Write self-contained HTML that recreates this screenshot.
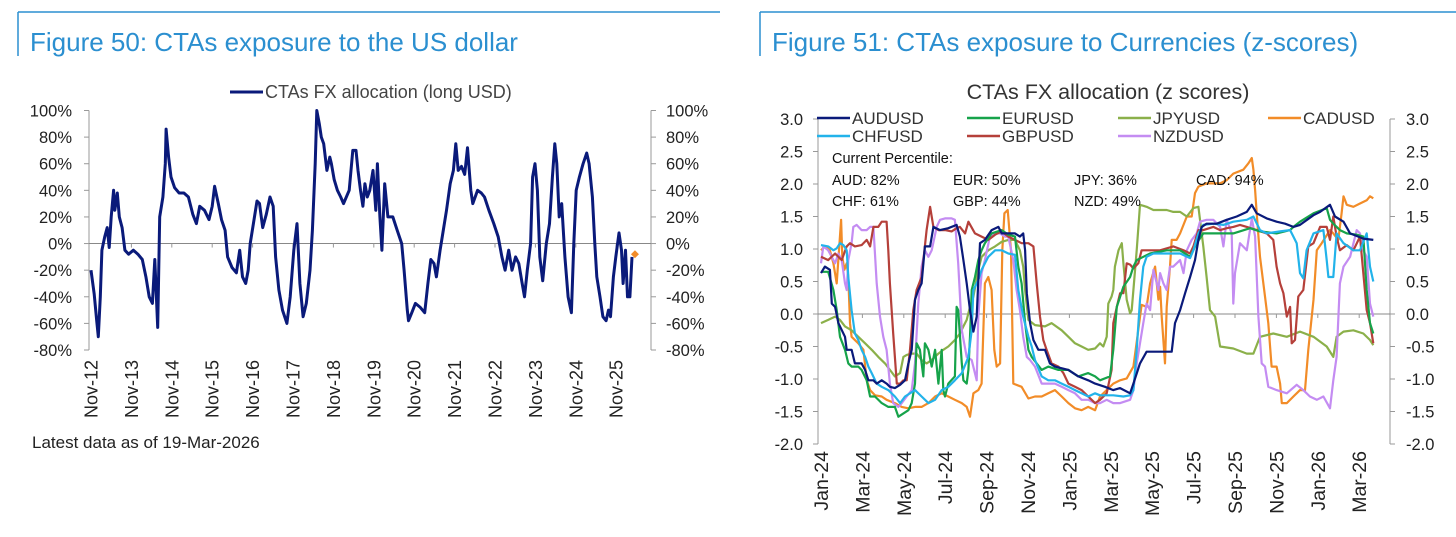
<!DOCTYPE html>
<html><head><meta charset="utf-8">
<style>
html,body{margin:0;padding:0;background:#fff;}
body{width:1456px;height:532px;overflow:hidden;font-family:"Liberation Sans",Arial,sans-serif;}
svg text{font-family:"Liberation Sans",Arial,sans-serif;}
</style></head>
<body>
<svg id="root" width="1456" height="532" viewBox="0 0 1456 532" xmlns="http://www.w3.org/2000/svg">
  <g>
    <line x1="18" y1="12" x2="720" y2="12" stroke="#2b8fd0" stroke-width="1.5"/>
    <line x1="18" y1="12" x2="18" y2="56" stroke="#2b8fd0" stroke-width="1.5"/>
    <text x="30" y="51" font-size="26" fill="#2b8fd0">Figure 50: CTAs exposure to the US dollar</text>
  </g>
  <g>
    <line x1="760" y1="12" x2="1456" y2="12" stroke="#2b8fd0" stroke-width="1.5"/>
    <line x1="760" y1="12" x2="760" y2="56" stroke="#2b8fd0" stroke-width="1.5"/>
    <text x="772" y="51" font-size="26" fill="#2b8fd0">Figure 51: CTAs exposure to Currencies (z-scores)</text>
  </g>
  <g id="left"></g>
  <g id="right"></g>
  <text x="32" y="448" font-size="17" fill="#222">Latest data as of 19-Mar-2026</text>
</svg>
<script>
// ---------- Left chart data (years since Nov-2012, % long USD) ----------
const usdYears=[0,.08,.14,.18,.23,.27,.34,.40,.45,.50,.56,.59,.65,.70,.77,.84,.93,1.05,1.16,1.27,1.36,1.44,1.52,1.58,1.65,1.70,1.78,1.84,1.86,1.92,1.98,2.07,2.18,2.30,2.41,2.52,2.61,2.69,2.81,2.92,3.00,3.06,3.15,3.23,3.32,3.38,3.49,3.60,3.68,3.75,3.83,3.89,3.94,4.02,4.11,4.17,4.25,4.34,4.43,4.51,4.57,4.65,4.74,4.85,4.93,5.02,5.10,5.17,5.25,5.33,5.42,5.48,5.55,5.59,5.65,5.70,5.76,5.84,5.91,5.95,6.02,6.10,6.18,6.25,6.39,6.48,6.56,6.61,6.67,6.73,6.78,6.84,6.90,6.98,7.05,7.09,7.15,7.20,7.27,7.35,7.47,7.58,7.69,7.75,7.83,7.86,7.94,8.03,8.15,8.26,8.34,8.41,8.49,8.55,8.64,8.72,8.80,8.89,8.97,9.03,9.09,9.17,9.25,9.32,9.40,9.45,9.57,9.66,9.74,9.85,9.97,10.08,10.17,10.25,10.34,10.42,10.51,10.59,10.66,10.73,10.80,10.88,10.93,10.99,11.05,11.11,11.18,11.27,11.35,11.42,11.48,11.53,11.59,11.65,11.73,11.81,11.89,11.95,12.01,12.09,12.18,12.27,12.33,12.41,12.47,12.52,12.60,12.67,12.75,12.81,12.86,12.93,12.99,13.07,13.13,13.17,13.23,13.28,13.34,13.39];
const usdValues=[-20,-38,-58,-70,-40,-5,5,12,-3,20,40,25,38,20,12,-5,-8,-5,-8,-12,-25,-40,-45,-12,-63,20,35,60,86,65,50,42,38,38,35,22,15,28,25,18,28,43,30,18,10,-10,-18,-22,-5,-25,-30,-20,0,15,32,30,12,22,35,28,-10,-35,-50,-60,-40,-5,15,-30,-55,-45,-20,10,60,100,90,80,75,55,65,60,48,40,35,30,40,70,70,55,40,28,45,35,40,55,25,60,20,-5,45,20,20,10,0,-20,-50,-58,-52,-45,-48,-52,-30,-12,-15,-25,-5,10,25,45,55,75,55,58,52,72,40,30,40,38,35,25,15,5,-10,-20,-5,-20,-10,-15,-28,-40,-20,0,50,60,40,-10,-28,0,15,50,75,60,20,30,-10,-40,-52,0,40,50,60,68,60,35,0,-25,-40,-55,-58,-50,-55,-25,-10,8,-5,-30,-5,-40,-40,-10];
const usdLatestYear=13.39, usdLatestValue=-8;
const usdYTicks=[100,80,60,40,20,0,-20,-40,-60,-80];
const usdXLabels=["Nov-12","Nov-13","Nov-14","Nov-15","Nov-16","Nov-17","Nov-18","Nov-19","Nov-20","Nov-21","Nov-22","Nov-23","Nov-24","Nov-25"];

// ---------- Right chart data (months since Jan-2024, z-score) ----------
const audSeries=[[0,.63],[.19,.73],[.43,.68],[.52,.16],[.68,.11],[.84,-.14],[1.16,-.35],[1.24,-.55],[1.48,-.55],[1.64,-.76],[1.96,-.76],[2.13,-.86],[2.29,-1.02],[2.53,-1.02],[2.69,-1.07],[2.93,-1.02],[3.17,-1.07],[3.33,-1.12],[3.57,-1.14],[3.82,-1.09],[4.06,-1.02],[4.22,-.76],[4.38,-.55],[4.54,.22],[4.70,.37],[4.86,.47],[5.02,1.04],[5.27,1.04],[5.43,1.34],[5.75,1.29],[6.15,1.32],[6.55,1.37],[6.71,1.19],[6.88,.83],[7.04,.47],[7.20,.06],[7.36,-.27],[7.52,-.04],[7.68,1.09],[7.92,1.14],[8.24,1.29],[8.57,1.34],[8.73,1.24],[9.05,1.24],[9.37,1.24],[9.61,1.19],[9.77,1.24],[9.86,.98],[9.94,.32],[10.10,-.14],[10.26,-.40],[10.50,-.55],[10.82,-.55],[11.06,-.76],[11.30,-.81],[11.95,-.86],[12.43,-.96],[12.91,-1.02],[13.24,-1.07],[13.72,-1.12],[14.12,-1.17],[14.45,-1.14],[14.93,-1.22],[15.09,-1.07],[15.41,-.76],[15.73,-.58],[16.94,-.58],[17.10,-.14],[17.35,.06],[17.59,.32],[17.83,.57],[18.07,.83],[18.23,1.14],[18.39,1.34],[18.63,1.39],[19.12,1.39],[19.60,1.45],[20.08,1.50],[20.57,1.57],[20.81,1.68],[21.05,1.55],[21.53,1.47],[22.01,1.42],[22.42,1.39],[22.82,1.34],[23.14,1.37],[23.79,1.52],[24.11,1.57],[24.59,1.68],[24.83,1.50],[25.24,1.42],[25.56,1.24],[26.20,1.16],[26.68,1.14]];
const eurSeries=[[0,.65],[.35,.65],[.60,.37],[.76,.06],[.92,-.35],[1.16,-.55],[1.32,-.76],[1.48,-.81],[1.80,-.81],[1.96,-.86],[2.21,-1.02],[2.37,-1.27],[2.61,-1.27],[2.93,-1.37],[3.25,-1.43],[3.57,-1.43],[3.74,-1.58],[3.98,-1.53],[4.22,-1.48],[4.38,-1.37],[4.54,-1.07],[4.62,-.45],[4.78,-.55],[4.94,-.96],[5.02,-.45],[5.19,-.55],[5.35,-.81],[5.51,-.55],[5.67,-1.07],[5.83,-.55],[5.91,-1.17],[5.99,-1.27],[6.15,-1.07],[6.47,-.96],[6.55,.11],[6.63,.06],[6.80,-.76],[6.88,-1.02],[7.04,-1.07],[7.12,-.86],[7.20,-.35],[7.28,.37],[7.44,.57],[7.60,.83],[7.76,.98],[7.92,1.09],[8.24,1.24],[8.73,1.29],[9.05,1.22],[9.37,1.19],[9.53,.73],[9.69,.47],[9.86,-.14],[10.02,-.55],[10.18,-.66],[10.42,-.76],[10.66,-.86],[10.98,-.81],[11.47,-.86],[11.95,-.86],[12.43,-.96],[12.91,-.91],[13.24,-.96],[13.48,-1.02],[13.96,-.96],[14.12,-.55],[14.29,.11],[14.61,.42],[14.93,.57],[15.09,.73],[15.25,.83],[15.57,.88],[15.90,.93],[16.70,.98],[17.35,.98],[17.83,.88],[18.15,1.09],[18.47,1.24],[19.12,1.24],[19.92,1.24],[20.73,1.32],[21.21,1.27],[22.01,1.24],[22.66,1.29],[22.82,1.34],[23.14,1.42],[23.79,1.55],[24.43,1.63],[24.59,1.45],[24.75,1.39],[25.07,1.29],[25.40,1.24],[25.88,1.22],[26.20,1.19],[26.36,.37],[26.52,-.14],[26.68,-.3]];
const jpySeries=[[0,-.14],[.35,-.09],[.68,-.04],[.92,-.09],[1.16,-.19],[1.48,-.25],[1.80,-.35],[2.13,-.45],[2.45,-.55],[2.77,-.66],[3.09,-.76],[3.33,-.86],[3.57,-.96],[3.82,-.91],[3.98,-.66],[4.14,-.63],[4.38,-.61],[4.62,-.61],[4.86,-.71],[5.10,-.76],[5.35,-.71],[5.67,-.61],[5.91,-.55],[6.15,-.50],[6.47,-.40],[6.71,-.30],[6.88,-.19],[7.04,-.09],[7.20,.11],[7.36,.27],[7.60,.68],[7.76,.88],[8.08,.98],[8.41,1.04],[8.73,1.11],[9.05,1.14],[9.37,1.14],[9.61,.98],[9.77,.73],[9.86,.37],[10.02,-.09],[10.34,-.17],[10.82,-.19],[11.14,-.14],[11.63,-.25],[11.95,-.35],[12.27,-.45],[12.59,-.50],[12.91,-.55],[13.24,-.53],[13.48,-.45],[13.64,-.50],[13.80,-.35],[13.88,.16],[14.04,.27],[14.12,.37],[14.20,.73],[14.37,.98],[14.53,1.09],[14.61,.78],[14.77,.22],[14.93,.01],[15.01,.06],[15.09,.37],[15.25,.98],[15.41,1.68],[15.73,1.65],[16.06,1.60],[16.70,1.60],[17.02,1.57],[17.35,1.57],[17.67,1.50],[17.99,1.63],[18.23,1.65],[18.47,1.04],[18.63,.57],[18.79,.06],[19.04,-.04],[19.28,-.50],[19.92,-.53],[20.57,-.61],[20.89,-.61],[21.21,-.35],[21.85,-.30],[22.50,-.35],[23.14,-.27],[23.79,-.35],[24.43,-.50],[24.75,-.66],[24.91,-.35],[25.24,-.27],[25.72,-.25],[26.20,-.30],[26.52,-.40],[26.68,-.48]];
const cadSeries=[[0,.98],[.19,1.04],[.43,.98],[.60,.78],[.76,.47],[.87,.98],[.97,1.45],[1.03,.88],[1.13,.68],[1.24,.78],[1.32,.57],[1.40,-.14],[1.48,-.35],[1.80,-.45],[2.05,-.55],[2.21,-1.02],[2.37,-1.17],[2.61,-1.25],[2.93,-1.27],[3.17,-1.32],[3.57,-1.37],[3.90,-1.43],[4.22,-1.45],[4.54,-1.43],[4.86,-1.43],[5.19,-1.37],[5.51,-1.27],[5.83,-1.22],[6.15,-1.27],[6.47,-1.32],[6.80,-1.37],[7.04,-1.43],[7.20,-1.58],[7.36,-1.22],[7.60,-1.17],[7.76,-1.07],[7.92,.47],[8.08,.57],[8.24,.37],[8.37,-.55],[8.49,-.81],[8.65,-.76],[8.76,.98],[8.86,1.55],[9.02,1.60],[9.18,.98],[9.29,-1.07],[9.69,-1.12],[10.02,-1.30],[10.34,-1.27],[10.66,-1.27],[10.98,-1.22],[11.30,-1.17],[11.63,-1.27],[11.95,-1.37],[12.27,-1.45],[12.59,-1.48],[12.91,-1.43],[13.24,-1.48],[13.48,-1.27],[13.80,-1.17],[14.12,-1.07],[14.45,-1.02],[14.77,-.99],[15.09,-.81],[15.25,-.43],[15.49,.14],[15.73,.11],[15.90,.47],[16.14,.73],[16.30,.22],[16.38,.42],[16.46,-.04],[16.62,-.76],[16.70,.11],[16.86,.73],[16.94,1.14],[17.18,1.14],[17.35,1.24],[17.67,1.50],[17.91,1.50],[18.07,1.86],[18.23,1.96],[18.63,2.01],[19.28,2.01],[19.60,2.06],[19.92,2.16],[20.40,2.22],[20.65,2.32],[20.81,2.40],[20.89,2.22],[20.97,1.91],[21.05,1.55],[21.21,.88],[21.45,.27],[21.61,-.14],[21.77,-.81],[22.01,-.81],[22.18,-1.07],[22.26,-1.37],[22.50,-1.37],[22.82,-1.27],[23.14,-1.17],[23.38,-1.17],[23.54,-.55],[23.79,.22],[23.95,.98],[24.19,1.09],[24.59,1.29],[24.75,1.24],[24.99,1.14],[25.15,1.55],[25.24,1.81],[25.40,1.68],[25.72,1.65],[26.04,1.70],[26.36,1.75],[26.52,1.81],[26.68,1.78]];
const chfSeries=[[0,1.06],[.35,1.04],[.60,.98],[.76,1.01],[.92,1.09],[1.08,1.06],[1.24,.98],[1.32,.57],[1.48,.06],[1.64,-.30],[1.80,-.40],[1.96,-.55],[2.13,-.66],[2.29,-.81],[2.45,-.91],[2.69,-1.07],[2.93,-1.12],[3.25,-1.17],[3.57,-1.27],[3.82,-1.37],[4.06,-1.27],[4.30,-1.22],[4.54,-1.17],[4.86,-1.27],[5.19,-1.37],[5.51,-1.32],[5.83,-1.17],[6.15,-1.12],[6.47,-1.02],[6.80,-.91],[7.12,-.66],[7.28,-.25],[7.36,.37],[7.60,.52],[7.76,.68],[8.08,.88],[8.41,.98],[8.73,.98],[9.05,.93],[9.37,.91],[9.53,.37],[9.77,-.04],[10.02,-.35],[10.18,-.50],[10.34,-.71],[10.66,-.96],[10.98,-1.02],[11.30,-1.02],[11.63,-1.07],[11.95,-1.12],[12.27,-1.17],[12.59,-1.22],[12.91,-1.27],[13.24,-1.22],[13.48,-1.25],[14.12,-1.25],[14.61,-1.27],[14.93,-1.25],[15.09,-1.17],[15.25,-.55],[15.41,.22],[15.57,.73],[15.73,.88],[16.06,.93],[16.70,.93],[17.35,.93],[17.83,.86],[17.99,.98],[18.23,1.24],[18.47,1.37],[18.95,1.39],[19.44,1.37],[19.92,1.42],[20.57,1.45],[20.89,1.50],[21.21,1.29],[21.53,1.24],[22.18,1.27],[22.66,1.29],[22.82,1.19],[22.98,1.09],[23.14,.63],[23.30,.55],[23.46,.98],[23.79,1.24],[24.27,1.29],[24.43,.83],[24.51,.57],[24.75,.57],[24.91,1.24],[25.24,1.09],[25.72,.98],[26.04,.98],[26.36,1.24],[26.52,.73],[26.68,.50]];
const gbpSeries=[[0,.88],[.35,.83],[.68,.93],[1.00,.83],[1.24,1.04],[1.40,1.09],[1.64,1.04],[1.96,1.06],[2.21,1.14],[2.37,1.04],[2.53,1.34],[2.77,1.34],[2.93,1.42],[3.17,1.42],[3.25,.98],[3.33,.47],[3.49,-.30],[3.66,-1.07],[3.82,-1.07],[3.98,-1.02],[4.14,-1.02],[4.30,-.55],[4.46,.06],[4.62,.37],[4.86,.57],[5.10,1.29],[5.27,1.65],[5.43,1.34],[5.67,1.29],[5.99,1.29],[6.31,1.27],[6.55,1.32],[6.71,1.34],[6.96,1.24],[7.12,1.42],[7.44,1.24],[7.76,1.19],[8.08,1.14],[8.41,1.22],[8.73,1.27],[9.05,1.19],[9.37,1.14],[9.69,1.09],[10.02,1.09],[10.26,1.04],[10.42,.47],[10.58,-.04],[10.74,-.40],[10.90,-.55],[11.14,-.76],[11.47,-.81],[11.71,-.91],[11.95,-1.07],[12.27,-1.12],[12.59,-1.17],[12.91,-1.27],[13.24,-1.37],[13.48,-1.32],[13.80,-1.22],[14.04,-.86],[14.12,-.14],[14.29,.11],[14.45,.32],[14.61,.32],[14.77,.78],[14.93,.76],[15.09,.70],[15.33,.78],[15.49,.98],[16.38,.98],[17.02,1.04],[17.51,.98],[17.83,.93],[17.99,1.04],[18.23,1.29],[18.47,1.29],[18.95,1.34],[19.28,1.29],[19.60,1.32],[19.92,1.34],[20.24,1.37],[20.57,1.34],[21.05,1.29],[21.53,1.24],[21.85,1.14],[22.01,.73],[22.18,.47],[22.34,.32],[22.50,-.04],[22.66,.11],[22.74,-.45],[22.90,-.40],[23.06,.27],[23.30,.37],[23.54,1.04],[23.79,1.09],[24.11,1.34],[24.43,1.34],[24.59,1.14],[24.75,1.50],[24.91,1.19],[25.07,.98],[25.40,1.06],[25.72,.98],[26.04,1.19],[26.36,.06],[26.52,-.14],[26.68,-.45]];
const nzdSeries=[[0,.78],[.11,1.04],[.35,.98],[.68,.78],[.84,.93],[1.00,.83],[1.16,.47],[1.24,.37],[1.32,.83],[1.48,1.09],[1.56,1.34],[1.72,1.37],[1.96,1.29],[2.21,1.29],[2.37,1.34],[2.53,1.34],[2.69,.47],[2.85,-.04],[3.01,-.35],[3.17,-.55],[3.33,-1.07],[3.49,-1.37],[3.74,-1.43],[3.90,-1.37],[4.14,-1.27],[4.38,-1.17],[4.54,-.76],[4.70,.16],[4.86,.73],[5.02,.98],[5.19,.88],[5.35,.98],[5.59,1.34],[5.75,1.45],[5.99,1.47],[6.31,1.47],[6.47,1.45],[6.63,.78],[6.80,-.25],[7.04,-.66],[7.28,-.71],[7.52,-1.02],[7.60,-.04],[7.76,.63],[7.92,.83],[8.16,1.19],[8.41,1.24],[8.65,1.24],[8.89,1.19],[9.05,1.19],[9.29,.83],[9.45,.37],[9.61,.06],[9.77,-.35],[9.94,-.66],[10.10,-.71],[10.34,-.81],[10.66,-1.07],[10.98,-1.07],[11.30,-1.07],[11.63,-1.12],[11.95,-1.17],[12.27,-1.22],[12.59,-1.32],[12.91,-1.32],[13.24,-1.37],[13.48,-1.37],[13.80,-1.32],[14.12,-1.37],[14.45,-1.37],[14.93,-1.32],[15.09,-1.17],[15.25,-.76],[15.41,-.45],[15.57,-.14],[15.73,.16],[15.90,.06],[16.06,.68],[16.30,.37],[16.38,.63],[16.54,.47],[16.70,.37],[16.86,.73],[17.02,.73],[17.35,.83],[17.51,.63],[17.67,.98],[17.91,1.14],[18.15,1.24],[18.31,1.42],[18.63,1.45],[18.95,1.45],[19.28,1.34],[19.44,1.04],[19.60,1.45],[19.84,1.24],[19.92,.16],[20.00,.63],[20.24,1.09],[20.57,.98],[20.81,1.47],[20.97,1.19],[21.13,-.04],[21.29,-.76],[21.45,-.81],[21.61,-1.12],[22.01,-1.17],[22.50,-1.22],[22.98,-1.09],[23.30,-1.17],[23.62,-1.27],[23.95,-1.32],[24.27,-1.27],[24.59,-1.45],[24.75,-1.02],[24.91,-.66],[25.07,.47],[25.24,.73],[25.56,.88],[25.88,1.29],[26.04,1.24],[26.20,.98],[26.36,.88],[26.52,.16],[26.68,-.04]];
const fxNames=["AUDUSD","EURUSD","JPYUSD","CADUSD","CHFUSD","GBPUSD","NZDUSD"];
const fxColors=["#0a1a7a","#16a34a","#8bb04a","#f28c28","#22b3ea","#b5403a","#c48cf2"];
const fxYTicks=[3.0,2.5,2.0,1.5,1.0,0.5,0.0,-0.5,-1.0,-1.5,-2.0];
const fxXLabels=["Jan-24","Mar-24","May-24","Jul-24","Sep-24","Nov-24","Jan-25","Mar-25","May-25","Jul-25","Sep-25","Nov-25","Jan-26","Mar-26"];
const pctLabels=["AUD: 82%","EUR: 50%","JPY: 36%","CAD: 94%","CHF: 61%","GBP: 44%","NZD: 49%"];

const NS="http://www.w3.org/2000/svg";
function mk(tag,attrs,parent,txt){const e=document.createElementNS(NS,tag);for(const k in attrs)e.setAttribute(k,attrs[k]);if(txt!==undefined)e.textContent=txt;parent.appendChild(e);return e;}

// ---------- Left chart ----------
(function(){
  const g=document.getElementById('left');
  const x0=91, pxPerYear=40.4, yTop=110.5, yBot=350;
  const xS=t=>x0+t*pxPerYear;
  const yS=v=>yTop+(100-v)/180*(yBot-yTop);
  mk('line',{x1:89,y1:yTop,x2:89,y2:yBot,stroke:'#999','stroke-width':1},g);
  mk('line',{x1:651,y1:yTop,x2:651,y2:yBot,stroke:'#999','stroke-width':1},g);
  usdYTicks.forEach(v=>{
    const y=yS(v);
    mk('line',{x1:84,y1:y,x2:89,y2:y,stroke:'#999'},g);
    mk('line',{x1:651,y1:y,x2:656,y2:y,stroke:'#999'},g);
    const t1=mk('text',{x:72,y:y+6,'font-size':16.5,'text-anchor':'end',fill:'#222'},g,v+'%');
    
    
    const t2=mk('text',{x:666,y:y+6,'font-size':16.5,fill:'#222'},g,v+'%');
    
    
  });
  mk('line',{x1:89,y1:yS(0),x2:651,y2:yS(0),stroke:'#888','stroke-width':1},g);
  usdXLabels.forEach((lab,i)=>{
    const x=xS(i);
    if(i>0) mk('line',{x1:x,y1:yS(0),x2:x,y2:yS(0)+4,stroke:'#999'},g);
    const t=mk('text',{x:0,y:0,'font-size':18,'text-anchor':'end',fill:'#222',transform:`translate(${x+6.5},${yBot+10}) rotate(-90)`},g,lab);
    
    
  });
  let d='';
  usdYears.forEach((t,i)=>{d+=(i?'L':'M')+xS(t).toFixed(1)+','+yS(usdValues[i]).toFixed(1);});
  const p=mk('path',{d:d,fill:'none',stroke:'#0a1a7a','stroke-width':3,'stroke-linejoin':'round'},g);
  
  
  const lx=xS(usdLatestYear)+3, ly=yS(usdLatestValue);
  const dm=mk('path',{d:`M${lx},${ly-4}L${lx+4},${ly}L${lx},${ly+4}L${lx-4},${ly}Z`,fill:'#f28c28'},g);
  
  
  const lg=mk('g',{},g);
  
  
  mk('line',{x1:230,y1:92,x2:263,y2:92,stroke:'#0a1a7a','stroke-width':3},lg);
  mk('text',{x:265,y:98,'font-size':18,fill:'#444'},lg,'CTAs FX allocation (long USD)');
})();

// ---------- Right chart ----------
(function(){
  const g=document.getElementById('right');
  const x0=821, pxPerMonth=20.7, y3=119, yM2=444;
  const xS=m=>x0+m*pxPerMonth;
  const yS=v=>y3+(3-v)/5*(yM2-y3);
  const tt=mk('text',{x:1108,y:99,'font-size':21.5,'text-anchor':'middle',fill:'#333'},g,'CTAs FX allocation (z scores)');
  
  
  mk('line',{x1:818,y1:y3,x2:818,y2:yM2,stroke:'#999'},g);
  mk('line',{x1:1390,y1:y3,x2:1390,y2:yM2,stroke:'#999'},g);
  fxYTicks.forEach(v=>{
    const y=yS(v);
    mk('line',{x1:813,y1:y,x2:818,y2:y,stroke:'#999'},g);
    mk('line',{x1:1390,y1:y,x2:1395,y2:y,stroke:'#999'},g);
    const a=mk('text',{x:803,y:y+6,'font-size':16.5,'text-anchor':'end',fill:'#222'},g,v.toFixed(1));
    
    
    const b=mk('text',{x:1406,y:y+6,'font-size':16.5,fill:'#222'},g,v.toFixed(1));
    
    
  });
  mk('line',{x1:818,y1:yS(0),x2:1390,y2:yS(0),stroke:'#888'},g);
  fxXLabels.forEach((lab,i)=>{
    const x=xS(i*2);
    if(i>0) mk('line',{x1:x,y1:yS(0),x2:x,y2:yS(0)+4,stroke:'#999'},g);
    const t=mk('text',{x:0,y:0,'font-size':19.5,'text-anchor':'end',fill:'#222',transform:`translate(${x+7},${yM2+7}) rotate(-90)`},g,lab);
    
    
  });
  const all=[audSeries,eurSeries,jpySeries,cadSeries,chfSeries,gbpSeries,nzdSeries];
  const order=[3,2,6,5,1,4,0];
  order.forEach(k=>{
    let d='';
    all[k].forEach((pt,i)=>{d+=(i?'L':'M')+xS(pt[0]).toFixed(1)+','+yS(pt[1]).toFixed(1);});
    const p=mk('path',{d:d,fill:'none',stroke:fxColors[k],'stroke-width':2.2,'stroke-linejoin':'round'},g);
    
    
  });
  const colX=[817,967,1118,1268];
  fxNames.forEach((n,i)=>{
    const row=i<4?0:1, col=i<4?i:i-4;
    const y=row?136:118;
    const e=mk('g',{},g);
    
    
    mk('line',{x1:colX[col],y1:y,x2:colX[col]+33,y2:y,stroke:fxColors[i],'stroke-width':2.5},e);
    mk('text',{x:colX[col]+35,y:y+6,'font-size':17,fill:'#333'},e,n);
  });
  const h=mk('text',{x:832,y:163,'font-size':14.5,fill:'#111'},g,'Current Percentile:');
  
  
  const pX=[832,953,1074,1196];
  pctLabels.forEach((s,i)=>{
    const row=i<4?0:1, col=i<4?i:i-4;
    const t=mk('text',{x:pX[col],y:row?206:185,'font-size':14.5,fill:'#111'},g,s);
    
    
  });
})();
</script>
</body></html>
